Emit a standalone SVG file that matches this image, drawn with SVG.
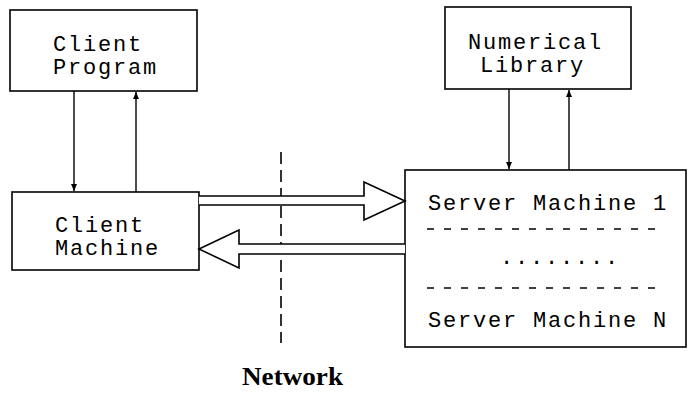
<svg xmlns="http://www.w3.org/2000/svg" width="689" height="395" viewBox="0 0 689 395">
<defs>
<marker id="ah" markerWidth="8" markerHeight="8" refX="7" refY="4" orient="auto" markerUnits="userSpaceOnUse">
<path d="M0,1 L7,4 L0,7 Z" fill="#000"/>
</marker>
<style>
.box{fill:#fff;stroke:#000;stroke-width:1.6}
.t{font-family:"Liberation Mono","DejaVu Sans Mono",monospace;font-size:22px;letter-spacing:1.8px;fill:#000}
.ln{stroke:#000;stroke-width:1.4;fill:none}
.big{fill:#fff;stroke:#000;stroke-width:1.6;stroke-linejoin:miter}
.dash{stroke:#000;stroke-width:1.4;stroke-dasharray:7 10;fill:none}
</style>
</defs>
<rect width="689" height="395" fill="#fff"/>
<g id="client-program">
<rect class="box" x="10" y="10" width="187" height="81"/>
<text class="t" x="53" y="51">Client</text>
<text class="t" x="53" y="74">Program</text>
</g>
<g id="client-machine">
<rect class="box" x="12" y="192" width="187" height="78"/>
<text class="t" x="55" y="232">Client</text>
<text class="t" x="55" y="255">Machine</text>
</g>
<g id="numerical-library">
<rect class="box" x="445" y="7" width="186" height="82"/>
<text class="t" x="468" y="49">Numerical</text>
<text class="t" x="480" y="72">Library</text>
</g>
<g id="server">
<rect class="box" x="405" y="170" width="281" height="177"/>
<text class="t" x="428" y="210">Server Machine 1</text>
<line class="dash" x1="427" y1="229" x2="660" y2="229"/>
<text class="t" x="500" y="264">........</text>
<line class="dash" x1="427" y1="288" x2="660" y2="288"/>
<text class="t" x="428" y="327">Server Machine N</text>
</g>
<g id="network">
<line x1="281" y1="152" x2="281" y2="343" stroke="#000" stroke-width="1.6" stroke-dasharray="12 6"/>
<text x="242" y="385" font-family="'Liberation Serif','Times New Roman',serif" font-weight="bold" font-size="25" textLength="101" lengthAdjust="spacingAndGlyphs">Network</text>
</g>
<g id="connectors">
<line class="ln" x1="74" y1="91" x2="74" y2="191" marker-end="url(#ah)"/>
<line class="ln" x1="136" y1="192" x2="136" y2="92" marker-end="url(#ah)"/>
<line class="ln" x1="509" y1="89" x2="509" y2="169" marker-end="url(#ah)"/>
<line class="ln" x1="569" y1="170" x2="569" y2="90" marker-end="url(#ah)"/>
<path class="big" d="M199,196 L364,196 L364,182 L405,201 L364,220 L364,205 L199,205"/>
<path class="big" d="M405,244 L239,244 L239,230 L199,249 L239,268 L239,254 L405,254"/>
</g>
</svg>
